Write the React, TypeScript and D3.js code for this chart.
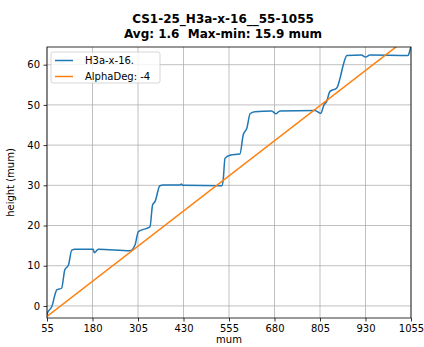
import { useEffect, useRef } from "react";
import * as d3 from "d3";

const W = 424, H = 347;
const xTicks = [55, 180, 305, 430, 555, 680, 805, 930, 1055];
const yTicks = [0, 10, 20, 30, 40, 50, 60];

// measured profile (mum, height)
const profX = [55, 56, 68, 82, 95, 104, 114, 123, 132, 182, 185, 196, 283, 297, 306, 329, 338, 345, 352, 365, 375, 420, 424, 428, 535, 539, 544, 558, 585, 594, 604, 613, 626, 672, 684, 695, 791, 807, 816, 823, 832, 851, 860, 869, 879, 919, 930, 942, 1047, 1053, 1055];
const profY = [-2.3, -1.8, -0.2, 4.0, 4.4, 9.0, 10.2, 13.9, 14.1, 14.1, 13.2, 14.1, 13.7, 15.2, 18.5, 19.3, 19.7, 25.1, 26.0, 29.9, 30.1, 30.1, 30.3, 30.0, 29.9, 31.3, 36.7, 37.5, 37.8, 42.5, 44.2, 47.8, 48.3, 48.5, 47.8, 48.5, 48.6, 47.9, 50.0, 50.8, 53.3, 54.2, 56.6, 60.0, 62.3, 62.4, 61.9, 62.4, 62.3, 63.9, 64.4];

// fitted line, AlphaDeg -4
const fitX = [55, 1055];
const fitY = [-2.6, 67.3];

const legendItems = [
  { label: "H3a-x-16.", color: "#1f77b4" },
  { label: "AlphaDeg: -4", color: "#ff7f0e" },
];

export default function App() {
  const ref = useRef<SVGSVGElement>(null);

  useEffect(() => {
    if (!ref.current) return;
    const ML = 47, MR = 13, MT = 47, MB = 29;
    const svg = d3.select(ref.current);
    svg.selectAll("*").remove();

    const x = d3.scaleLinear().domain([55, 1055]).range([ML, W - MR]);
    const y = d3.scaleLinear().domain([-3, 64.4]).range([H - MB, MT]);

    svg.append("defs").append("clipPath").attr("id", "plot-clip")
      .append("rect").attr("x", ML).attr("y", MT)
      .attr("width", W - ML - MR).attr("height", H - MT - MB);

    // grid
    const grid = svg.append("g").attr("stroke", "#b0b0b0").attr("stroke-width", 0.8);
    xTicks.forEach(t => grid.append("line").attr("x1", x(t)).attr("x2", x(t)).attr("y1", MT).attr("y2", H - MB));
    yTicks.forEach(t => grid.append("line").attr("x1", ML).attr("x2", W - MR).attr("y1", y(t)).attr("y2", y(t)));

    const plot = svg.append("g").attr("clip-path", "url(#plot-clip)");
    const line = d3.line<[number, number]>().x(d => x(d[0])).y(d => y(d[1]));

    plot.append("path")
      .datum(profX.map((v, i) => [v, profY[i]] as [number, number]))
      .attr("d", d3.line<[number, number]>().x(d => x(d[0])).y(d => y(d[1])).curve(d3.curveMonotoneX))
      .attr("fill", "none").attr("stroke", "#1f77b4").attr("stroke-width", 1.5);

    plot.append("path")
      .datum(fitX.map((v, i) => [v, fitY[i]] as [number, number]))
      .attr("d", line)
      .attr("fill", "none").attr("stroke", "#ff7f0e").attr("stroke-width", 1.5);

    // axes
    const xa = svg.append("g").attr("transform", `translate(0,${H - MB})`)
      .call(d3.axisBottom(x).tickValues(xTicks).tickSize(3.5).tickPadding(3.5).tickFormat(d3.format("d")));
    const ya = svg.append("g").attr("transform", `translate(${ML},0)`)
      .call(d3.axisLeft(y).tickValues(yTicks).tickSize(3.5).tickPadding(3.5));
    [xa, ya].forEach(a => {
      a.select(".domain").remove();
      a.selectAll("text").attr("font-family", "DejaVu Sans").attr("font-size", 10).attr("fill", "#000");
      a.selectAll("line").attr("stroke", "#000").attr("stroke-width", 0.8);
    });

    svg.append("rect").attr("x", ML).attr("y", MT)
      .attr("width", W - ML - MR).attr("height", H - MT - MB)
      .attr("fill", "none").attr("stroke", "#000").attr("stroke-width", 0.8);

    // labels
    svg.append("text").attr("x", (ML + W - MR) / 2).attr("y", 343)
      .attr("text-anchor", "middle").attr("font-family", "DejaVu Sans").attr("font-size", 10).text("mum");
    svg.append("text").attr("transform", `translate(14,${(MT + H - MB) / 2}) rotate(-90)`)
      .attr("text-anchor", "middle").attr("font-family", "DejaVu Sans").attr("font-size", 10).text("height (mum)");

    const title = svg.append("g").attr("font-family", "DejaVu Sans").attr("font-weight", "bold")
      .attr("font-size", 12).attr("text-anchor", "middle");
    title.append("text").attr("x", 223).attr("y", 23).text("CS1-25_H3a-x-16__55-1055");
    title.append("text").attr("x", 223).attr("y", 37.5).attr("xml:space", "preserve")
      .text("Avg: 1.6  Max-min: 15.9 mum");

    // legend
    const lg = svg.append("g").attr("transform", `translate(51,52)`);
    lg.append("rect").attr("width", 109).attr("height", 31).attr("rx", 2)
      .attr("fill", "#fff").attr("fill-opacity", 0.8).attr("stroke", "#ccc").attr("stroke-width", 0.8);
    legendItems.forEach((it, i) => {
      const yy = 8.5 + i * 16;
      lg.append("line").attr("x1", 4).attr("x2", 22).attr("y1", yy).attr("y2", yy)
        .attr("stroke", it.color).attr("stroke-width", 1.5);
      lg.append("text").attr("x", 34).attr("y", yy + 3.5).attr("font-family", "DejaVu Sans")
        .attr("font-size", 10).text(it.label);
    });
  }, []);

  return <svg ref={ref} width={W} height={H} style={{ position: "absolute", left: 0, top: 0, background: "#fff" }} />;
}
